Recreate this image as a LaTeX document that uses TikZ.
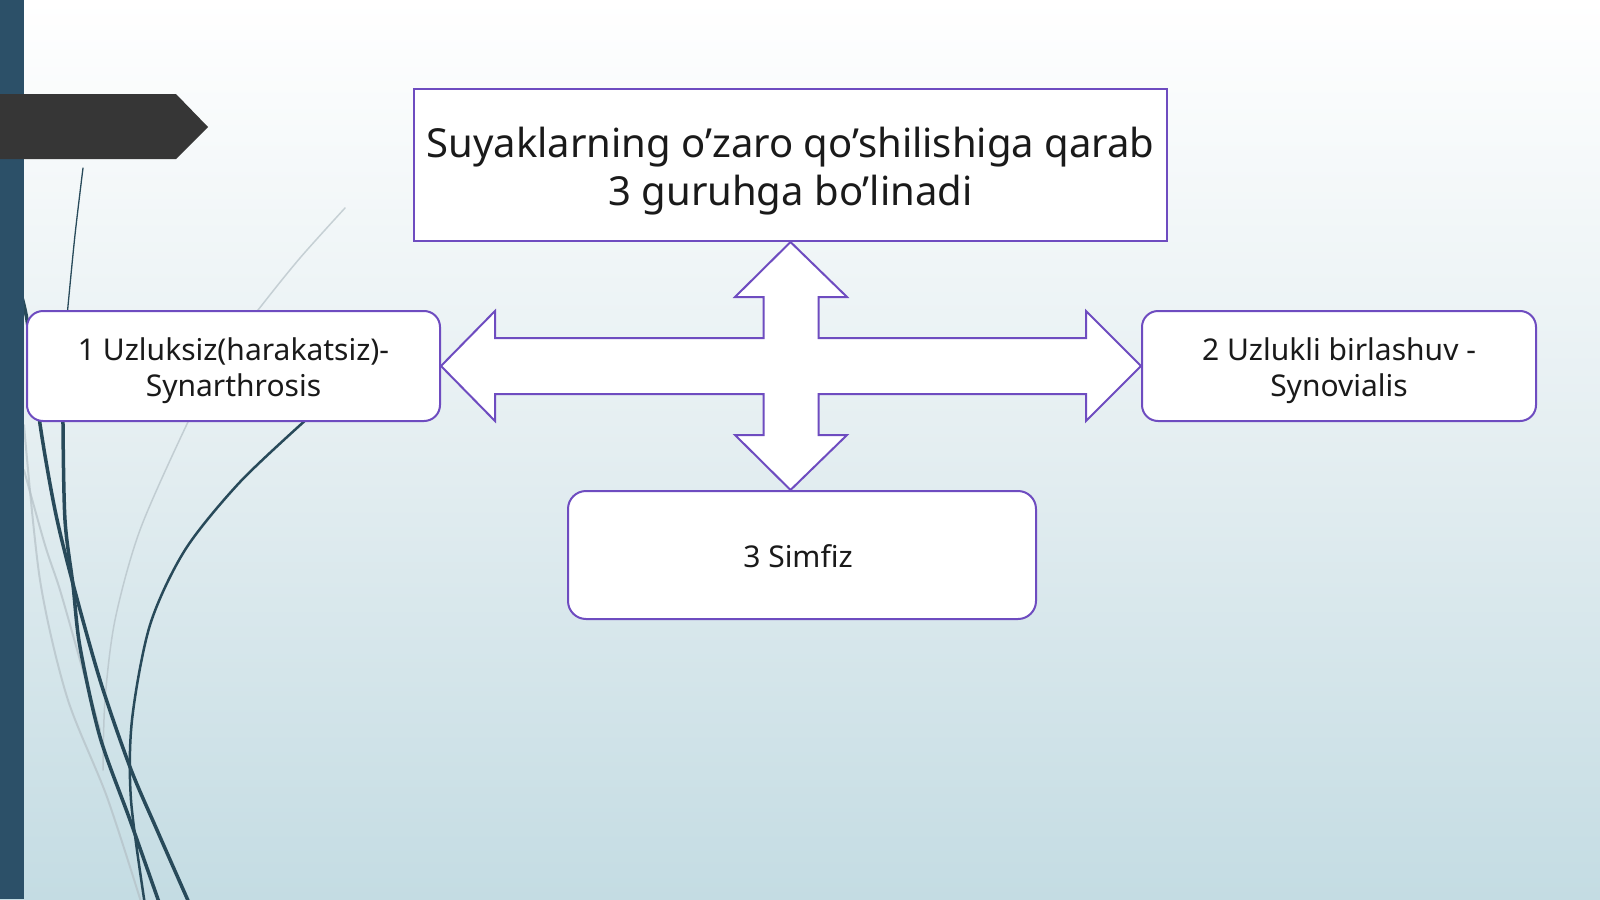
\documentclass[tikz,border=0pt]{standalone}
\usepackage{fontspec}
\setmainfont{Noto Sans}
\usetikzlibrary{calc}
\definecolor{bord}{RGB}{110,76,192}
\definecolor{bgb}{RGB}{196,220,227}
\definecolor{bgm}{RGB}{228,238,241}
\definecolor{barc}{RGB}{44,80,104}
\definecolor{tabc}{RGB}{54,54,54}
\definecolor{curv}{RGB}{40,74,90}
\definecolor{lcurv}{RGB}{180,192,198}
\definecolor{txt}{RGB}{26,26,26}
\begin{document}
\begin{tikzpicture}[x=1pt,y=-1pt,
  box/.style={draw=bord, line width=2pt, fill=white, inner sep=0pt},
  roundbox/.style={box, rounded corners=16pt},
  boxtext/.style={text=txt, align=center, inner sep=0pt},
  smalltext/.style={boxtext, font=\fontsize{30}{36}\selectfont},
  crossarrow/.style={draw=bord, line width=2pt, fill=white, line join=miter},
  darkcurve/.style={draw=curv, line cap=round},
  lightcurve/.style={draw=lcurv, line cap=round, opacity=0.7}]
\useasboundingbox (0,0) rectangle (1600,899);
\shade[top color=white, bottom color=bgm] (0,0) rectangle (1600,450);
\shade[top color=bgm, bottom color=bgb] (0,449.5) rectangle (1600,899);
% decorative curves
\draw[lightcurve, line width=1.5pt] plot[smooth] coordinates {(345,208) (300,258) (262,305) (220,360) (187,424) (140,530) (115,620) (105,700) (103,770)};
\draw[lightcurve, line width=2pt] plot[smooth] coordinates {(24,425) (40,580) (67,697) (107,797) (142,905)};
\draw[lightcurve, line width=2pt] plot[smooth] coordinates {(24,470) (45,545) (60,590) (80,660) (100,730)};
\draw[darkcurve, line width=1.3pt] plot[smooth] coordinates {(83,168) (75,235) (68,306) (66,330)};
\draw[darkcurve, line width=3.5pt] plot[smooth] coordinates {(64,400) (63,424) (65,520) (73,585) (80,647) (100,737) (130,820) (160,905)};
\draw[darkcurve, line width=3.5pt] plot[smooth] coordinates {(18,285) (27,320) (40,424) (55,510) (72,580) (100,680) (130,767) (157,830) (190,905)};
\draw[darkcurve, line width=2.5pt] plot[smooth] coordinates {(308,418) (240,482) (185,550) (150,625) (132,720) (131,800) (145,905)};
% left bar and tab
\fill[barc] (0,0) rectangle (24,899);
\fill[tabc] (0,94) -- (176,94) -- (208,127) -- (176,159) -- (0,159) -- cycle;
% boxes
\node[box, minimum width=753pt, minimum height=152pt] (ntop) at (790.5,165) {};
\node[boxtext, font=\fontsize{40}{48}\selectfont] (ntopt) at ($(ntop.center)+(0,6)$) {Suyaklarning o’zaro qo’shilishiga qarab\\3 guruhga bo’linadi};
\node[roundbox, minimum width=413pt, minimum height=110pt] (n1) at (233.5,366) {};
\node[smalltext] (n1t) at ($(n1.center)+(0,5)$) {1 Uzluksiz(harakatsiz)-\\Synarthrosis};
\node[roundbox, minimum width=394pt, minimum height=110pt] (n2) at (1339,366) {};
\node[smalltext] (n2t) at ($(n2.center)+(0,5)$) {2 Uzlukli birlashuv -\\Synovialis};
\node[roundbox, rounded corners=18pt, minimum width=468pt, minimum height=128pt] (n3) at (802,555) {};
\node[smalltext] (n3t) at ($(n3.center)+(-4,1)$) {3 Simfiz};
% cross arrow
\draw[crossarrow] (ntop.south) -- (847,297) -- (818.5,297) -- (818.5,338) -- (1086,338) -- (1086,311) -- (n2.west) -- (1086,421) -- (1086,394) -- (818.5,394) -- (818.5,435) -- (847,435) -- (n3.north -| ntop.south) -- (735,435) -- (763.5,435) -- (763.5,394) -- (495,394) -- (495,421) -- (n1.east) -- (495,311) -- (495,338) -- (763.5,338) -- (763.5,297) -- (735,297) -- cycle;
\end{tikzpicture}
\end{document}
